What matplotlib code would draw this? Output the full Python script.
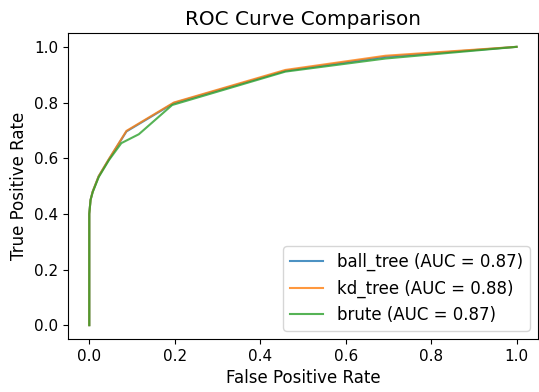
import matplotlib
matplotlib.use("Agg")
import matplotlib.pyplot as plt

plt.rcParams['font.size'] = 12
plt.rcParams['xtick.labelsize'] = 11
plt.rcParams['ytick.labelsize'] = 11
plt.rcParams['legend.fontsize'] = 12

# ROC points
fpr_ball = [0.0, 0.0, 0.003, 0.008, 0.022, 0.046, 0.087, 0.198, 0.459, 0.693, 1.0]
tpr_ball = [0.0, 0.40, 0.45, 0.48, 0.535, 0.596, 0.696, 0.798, 0.914, 0.964, 1.0]

fpr_kd = [0.0, 0.0, 0.003, 0.008, 0.022, 0.046, 0.087, 0.198, 0.459, 0.693, 1.0]
tpr_kd = [0.0, 0.40, 0.45, 0.48, 0.535, 0.597, 0.698, 0.800, 0.917, 0.968, 1.0]

fpr_brute = [0.0, 0.0, 0.003, 0.008, 0.022, 0.046, 0.075, 0.116, 0.194, 0.459, 0.693, 1.0]
tpr_brute = [0.0, 0.40, 0.45, 0.478, 0.532, 0.593, 0.654, 0.686, 0.791, 0.911, 0.958, 1.0]

labels = ['ball_tree (AUC = 0.87)', 'kd_tree (AUC = 0.88)', 'brute (AUC = 0.87)']

fig = plt.figure(figsize=(5.39, 3.92), dpi=100)
ax = fig.add_axes([0.126, 0.135, 0.872, 0.781])

ax.plot(fpr_ball, tpr_ball, label=labels[0], alpha=0.8)
ax.plot(fpr_kd, tpr_kd, label=labels[1], alpha=0.8)
ax.plot(fpr_brute, tpr_brute, label=labels[2], alpha=0.8)

ax.set_title("ROC Curve Comparison", fontsize=14.4)
ax.set_xlabel("False Positive Rate")
ax.set_ylabel("True Positive Rate")
ax.legend(loc='lower right')

fig.savefig("out.png", dpi=100)
